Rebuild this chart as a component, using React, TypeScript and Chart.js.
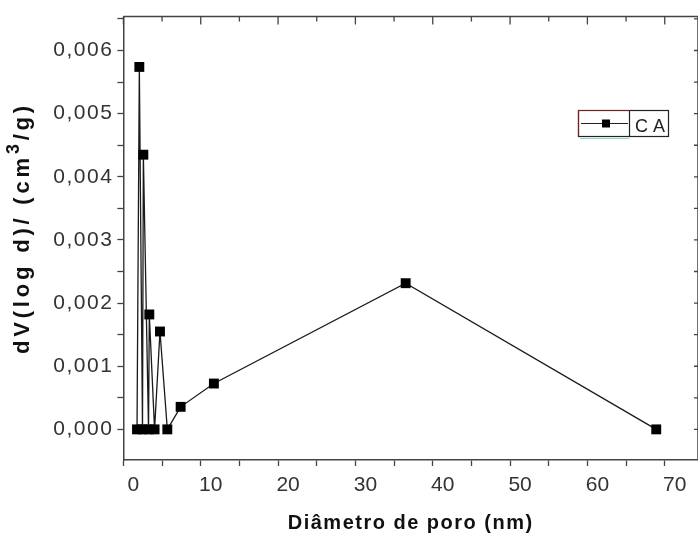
import React, { useEffect, useRef } from "react";
import { Chart, registerables } from "chart.js";

Chart.register(...registerables);

// ---- data ----
const poreDiameter = [1.76, 2.06, 2.47, 2.58, 3.25, 3.35, 4.03, 4.73, 5.68, 7.4, 11.7, 36.5, 68.9];
const dVlogd = [0, 0.00574, 0, 0.00435, 0, 0.00182, 0, 0.00155, 0, 0.000357, 0.000726, 0.002315, 0];
const seriesLabel = "CA";
const xTitle = "Diâmetro de poro (nm)";
const yTitleParts = ["dV(log d)/ (cm", "3", "/g)"];
const xRange = [0, 74.3];
const yRange = [-0.000485, 0.006537];
const xStep = 5;
const yStep = 0.0005;

const FAMILY = '"Liberation Sans", Arial, sans-serif';

const framePlugin = {
  id: "frameAndTitles",
  beforeDraw(chart: any) {
    const s = chart.scales.y;
    if (s && !s.__spaced) {
      const orig = s.drawLabels;
      s.drawLabels = function (area: any) {
        const ctx = this.ctx;
        const prev = ctx.letterSpacing;
        ctx.letterSpacing = "1.5px";
        orig.call(this, area);
        ctx.letterSpacing = prev;
      };
      s.__spaced = true;
    }
  },
  afterDraw(chart: any) {
    const { ctx, chartArea, scales } = chart;
    const { left, top, right, bottom } = chartArea;
    const x = scales.x;
    const y = scales.y;
    ctx.save();
    // top and right frame lines
    ctx.strokeStyle = "#444";
    ctx.lineWidth = 1.5;
    ctx.beginPath();
    ctx.moveTo(left, top);
    ctx.lineTo(right, top);
    ctx.moveTo(right, top);
    ctx.lineTo(right, bottom);
    ctx.stroke();
    // inward ticks on top and right
    ctx.lineWidth = 1.3;
    ctx.beginPath();
    x.ticks.forEach((t: any) => {
      const px = x.getPixelForValue(t.value);
      const major = Math.round(t.value) % 10 === 0;
      ctx.moveTo(px, top);
      ctx.lineTo(px, top + (major ? 8 : 5));
    });
    y.ticks.forEach((t: any) => {
      const py = y.getPixelForValue(t.value);
      ctx.moveTo(right, py);
      ctx.lineTo(right - 4, py);
    });
    ctx.stroke();

    // x title
    ctx.fillStyle = "#111";
    ctx.font = `bold 20px ${FAMILY}`;
    ctx.letterSpacing = "1.5px";
    ctx.textAlign = "center";
    ctx.textBaseline = "alphabetic";
    ctx.fillText(xTitle, (left + right) / 2, 529);

    // y title (rotated, with superscript)
    ctx.save();
    ctx.translate(29, 228);
    ctx.rotate(-Math.PI / 2);
    ctx.textAlign = "left";
    ctx.letterSpacing = "3.8px";
    ctx.font = `bold 22px ${FAMILY}`;
    const w1 = ctx.measureText(yTitleParts[0]).width;
    const w3 = ctx.measureText(yTitleParts[2]).width;
    ctx.font = `bold 18px ${FAMILY}`;
    const w2 = ctx.measureText(yTitleParts[1]).width;
    let cx = -(w1 + w2 + w3) / 2;
    ctx.font = `bold 22px ${FAMILY}`;
    ctx.fillText(yTitleParts[0], cx, 0);
    cx += w1;
    ctx.font = `bold 18px ${FAMILY}`;
    ctx.fillText(yTitleParts[1], cx, -10);
    cx += w2;
    ctx.font = `bold 22px ${FAMILY}`;
    ctx.fillText(yTitleParts[2], cx, 0);
    ctx.restore();

    // legend box
    ctx.letterSpacing = "0px";
    ctx.lineWidth = 1.2;
    ctx.strokeStyle = "#222";
    ctx.strokeRect(578.5, 110.5, 90, 26);
    ctx.beginPath();
    ctx.moveTo(629.5, 110.5);
    ctx.lineTo(629.5, 136.5);
    ctx.stroke();
    ctx.strokeStyle = "#7a2020";
    ctx.beginPath();
    ctx.moveTo(578.5, 136.5);
    ctx.lineTo(578.5, 110.5);
    ctx.lineTo(629.5, 110.5);
    ctx.stroke();
    ctx.strokeStyle = "#8fd6cf";
    ctx.beginPath();
    ctx.moveTo(580, 138.5);
    ctx.lineTo(629.5, 138.5);
    ctx.stroke();
    ctx.strokeStyle = "#222";
    ctx.beginPath();
    ctx.moveTo(581, 123.5);
    ctx.lineTo(628, 123.5);
    ctx.stroke();
    ctx.fillStyle = "#000";
    ctx.fillRect(602, 119.5, 8, 8);
    ctx.fillStyle = "#222";
    ctx.font = `18px ${FAMILY}`;
    ctx.letterSpacing = "5px";
    ctx.textAlign = "left";
    ctx.fillText(seriesLabel, 635, 131.5);
    ctx.restore();
  },
};

export default function App() {
  const ref = useRef<HTMLCanvasElement | null>(null);
  useEffect(() => {
    if (!ref.current) return;
    const points = poreDiameter.map((d, i) => ({ x: d, y: dVlogd[i] }));
    const chart = new Chart(ref.current, {
      type: "line",
      data: {
        datasets: [
          {
            label: seriesLabel,
            data: points,
            borderColor: "#1a1a1a",
            borderWidth: 1.3,
            pointStyle: "rect",
            pointRadius: 7,
            pointBackgroundColor: "#000",
            pointBorderWidth: 0,
            tension: 0,
            clip: false as any,
          },
        ],
      },
      options: {
        animation: false,
        responsive: false,
        layout: { autoPadding: false, padding: { top: 15.3, right: 0, bottom: 0, left: 0 } } as any,
        plugins: { legend: { display: false }, tooltip: { enabled: false } },
        scales: {
          x: {
            type: "linear",
            min: xRange[0],
            max: xRange[1],
            afterFit(s: any) {
              s.height = 76;
            },
            ticks: {
              stepSize: xStep,
              includeBounds: false,
              autoSkip: false,
              maxRotation: 0,
              labelOffset: 10,
              padding: 7,
              color: "#333",
              font: { family: FAMILY, size: 21 },
              callback: (v: any) => (Math.round(v) % 10 === 0 ? String(Math.round(v)) : ""),
            },
            grid: { drawOnChartArea: false, drawTicks: true, tickLength: 6, tickColor: "#444", tickWidth: 1.3 },
            border: { display: true, color: "#444", width: 1.5 },
          },
          y: {
            type: "linear",
            min: yRange[0],
            max: yRange[1],
            afterFit(s: any) {
              s.width = 123.4;
            },
            ticks: {
              stepSize: yStep,
              includeBounds: false,
              autoSkip: false,
              padding: 4,
              color: "#333",
              font: { family: FAMILY, size: 21 },
              callback: (v: any) => {
                const k = Math.round(v * 10000);
                return k % 10 === 0 ? (k / 10000).toFixed(3).replace(".", ",") : "";
              },
            },
            grid: { drawOnChartArea: false, drawTicks: true, tickLength: 6, tickColor: "#444", tickWidth: 1.3 },
            border: { display: true, color: "#444", width: 1.5 },
          },
        },
      },
      plugins: [framePlugin],
    });
    return () => chart.destroy();
  }, []);
  return (
    <div style={{ position: "fixed", left: 0, top: 0, width: 698, height: 536, background: "#fff" }}>
      <canvas ref={ref} width={698} height={536} style={{ display: "block" }} />
    </div>
  );
}
